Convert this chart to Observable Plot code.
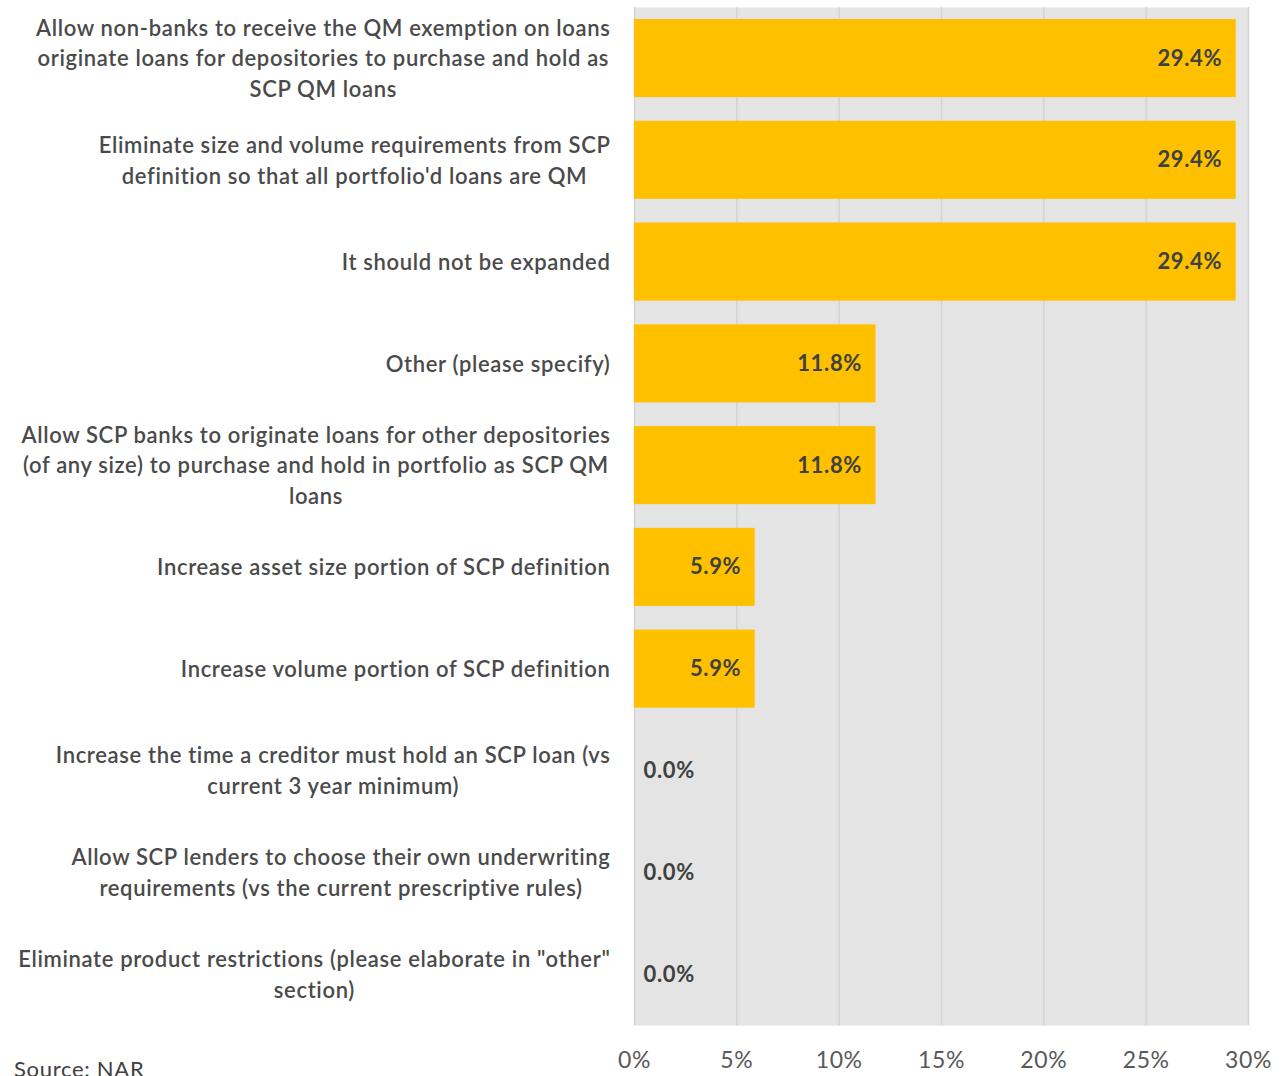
<!DOCTYPE html>
<html><head><meta charset="utf-8">
<script src="https://cdn.jsdelivr.net/npm/d3@7"></script>
<script src="https://cdn.jsdelivr.net/npm/@observablehq/plot@0.6"></script>
<style>
body{margin:0;background:#fff;font-family:Lato,sans-serif;}
#wrap{position:relative;width:1284px;height:1076px;overflow:hidden}
#src{position:absolute;left:14px;top:1055px;font-size:22px;letter-spacing:0.7px;color:#404040;font-family:Lato,sans-serif}
#chart svg text{letter-spacing:0.65px}
</style>
</head><body><div id="wrap"><div id="chart"></div><div id="src">Source: NAR</div></div>
<script>
const categories = [
  "Allow non-banks to receive the QM exemption on loans\noriginate loans for depositories to purchase and hold as\nSCP QM loans",
  "Eliminate size and volume requirements from SCP\ndefinition so that all portfolio'd loans are QM",
  "It should not be expanded",
  "Other (please specify)",
  "Allow SCP banks to originate loans for other depositories\n(of any size) to purchase and hold in portfolio as SCP QM\nloans",
  "Increase asset size portion of SCP definition",
  "Increase volume portion of SCP definition",
  "Increase the time a creditor must hold an SCP loan (vs\ncurrent 3 year minimum)",
  "Allow SCP lenders to choose their own underwriting\nrequirements (vs the current prescriptive rules)",
  "Eliminate product restrictions (please elaborate in \"other\"\nsection)"
];
const values = [29.4, 29.4, 29.4, 11.8, 11.8, 5.9, 5.9, 0.0, 0.0, 0.0];
const xTicks = [0, 5, 10, 15, 20, 25, 30];
const xTickLabels = ["0%", "5%", "10%", "15%", "20%", "25%", "30%"];

const data = categories.map((c, i) => ({category: c, value: values[i]}));
const fmt = d => d.value.toFixed(1) + "%";
const tickFmt = d => xTickLabels[xTicks.indexOf(d)];

const chart = Plot.plot({
  width: 1284, height: 1085,
  marginLeft: 634, marginRight: 36, marginTop: 7, marginBottom: 60,
  x: {domain: [0, 30]},
  y: {domain: categories, paddingInner: 0.233, paddingOuter: 0.118, round: false},
  style: {fontFamily: "Lato, sans-serif", background: "#fff"},
  marks: [
    Plot.frame({fill: "#e4e4e4", stroke: null}),
    Plot.ruleX(xTicks, {stroke: "#d3d3d3", strokeWidth: 1.5}),
    Plot.barX(data, {x: "value", y: "category", fill: "#ffc000"}),
    Plot.text(data.filter(d => d.value > 0), {x: "value", y: "category", text: fmt, textAnchor: "end", dx: -14, fontSize: 22, fontWeight: 700, fill: "#404040"}),
    Plot.text(data.filter(d => d.value === 0), {x: "value", y: "category", text: fmt, textAnchor: "start", dx: 9, fontSize: 22, fontWeight: 700, fill: "#404040"}),
    Plot.axisX({ticks: xTicks, tickFormat: tickFmt, tickSize: 0, tickPadding: 26, fontSize: 23, fill: "#595959", label: null}),
    Plot.axisY({tickSize: 0, tickPadding: 24, fontSize: 22, lineHeight: 1.4, fill: "#4a4a4a", fontWeight: 600, label: null, dy: -2})
  ]
});
document.getElementById("chart").appendChild(chart);

// center the lines of each multi-line category label within its block
d3.select(chart).selectAll('g[aria-label="y-axis tick label"] text').each(function() {
  const spans = Array.from(this.querySelectorAll("tspan"));
  if (spans.length < 2) return;
  const widths = spans.map(s => s.getComputedTextLength());
  const W = Math.max(...widths);
  spans.forEach((s, i) => s.setAttribute("x", -(W - widths[i]) / 2));
});
</script>
</body></html>
